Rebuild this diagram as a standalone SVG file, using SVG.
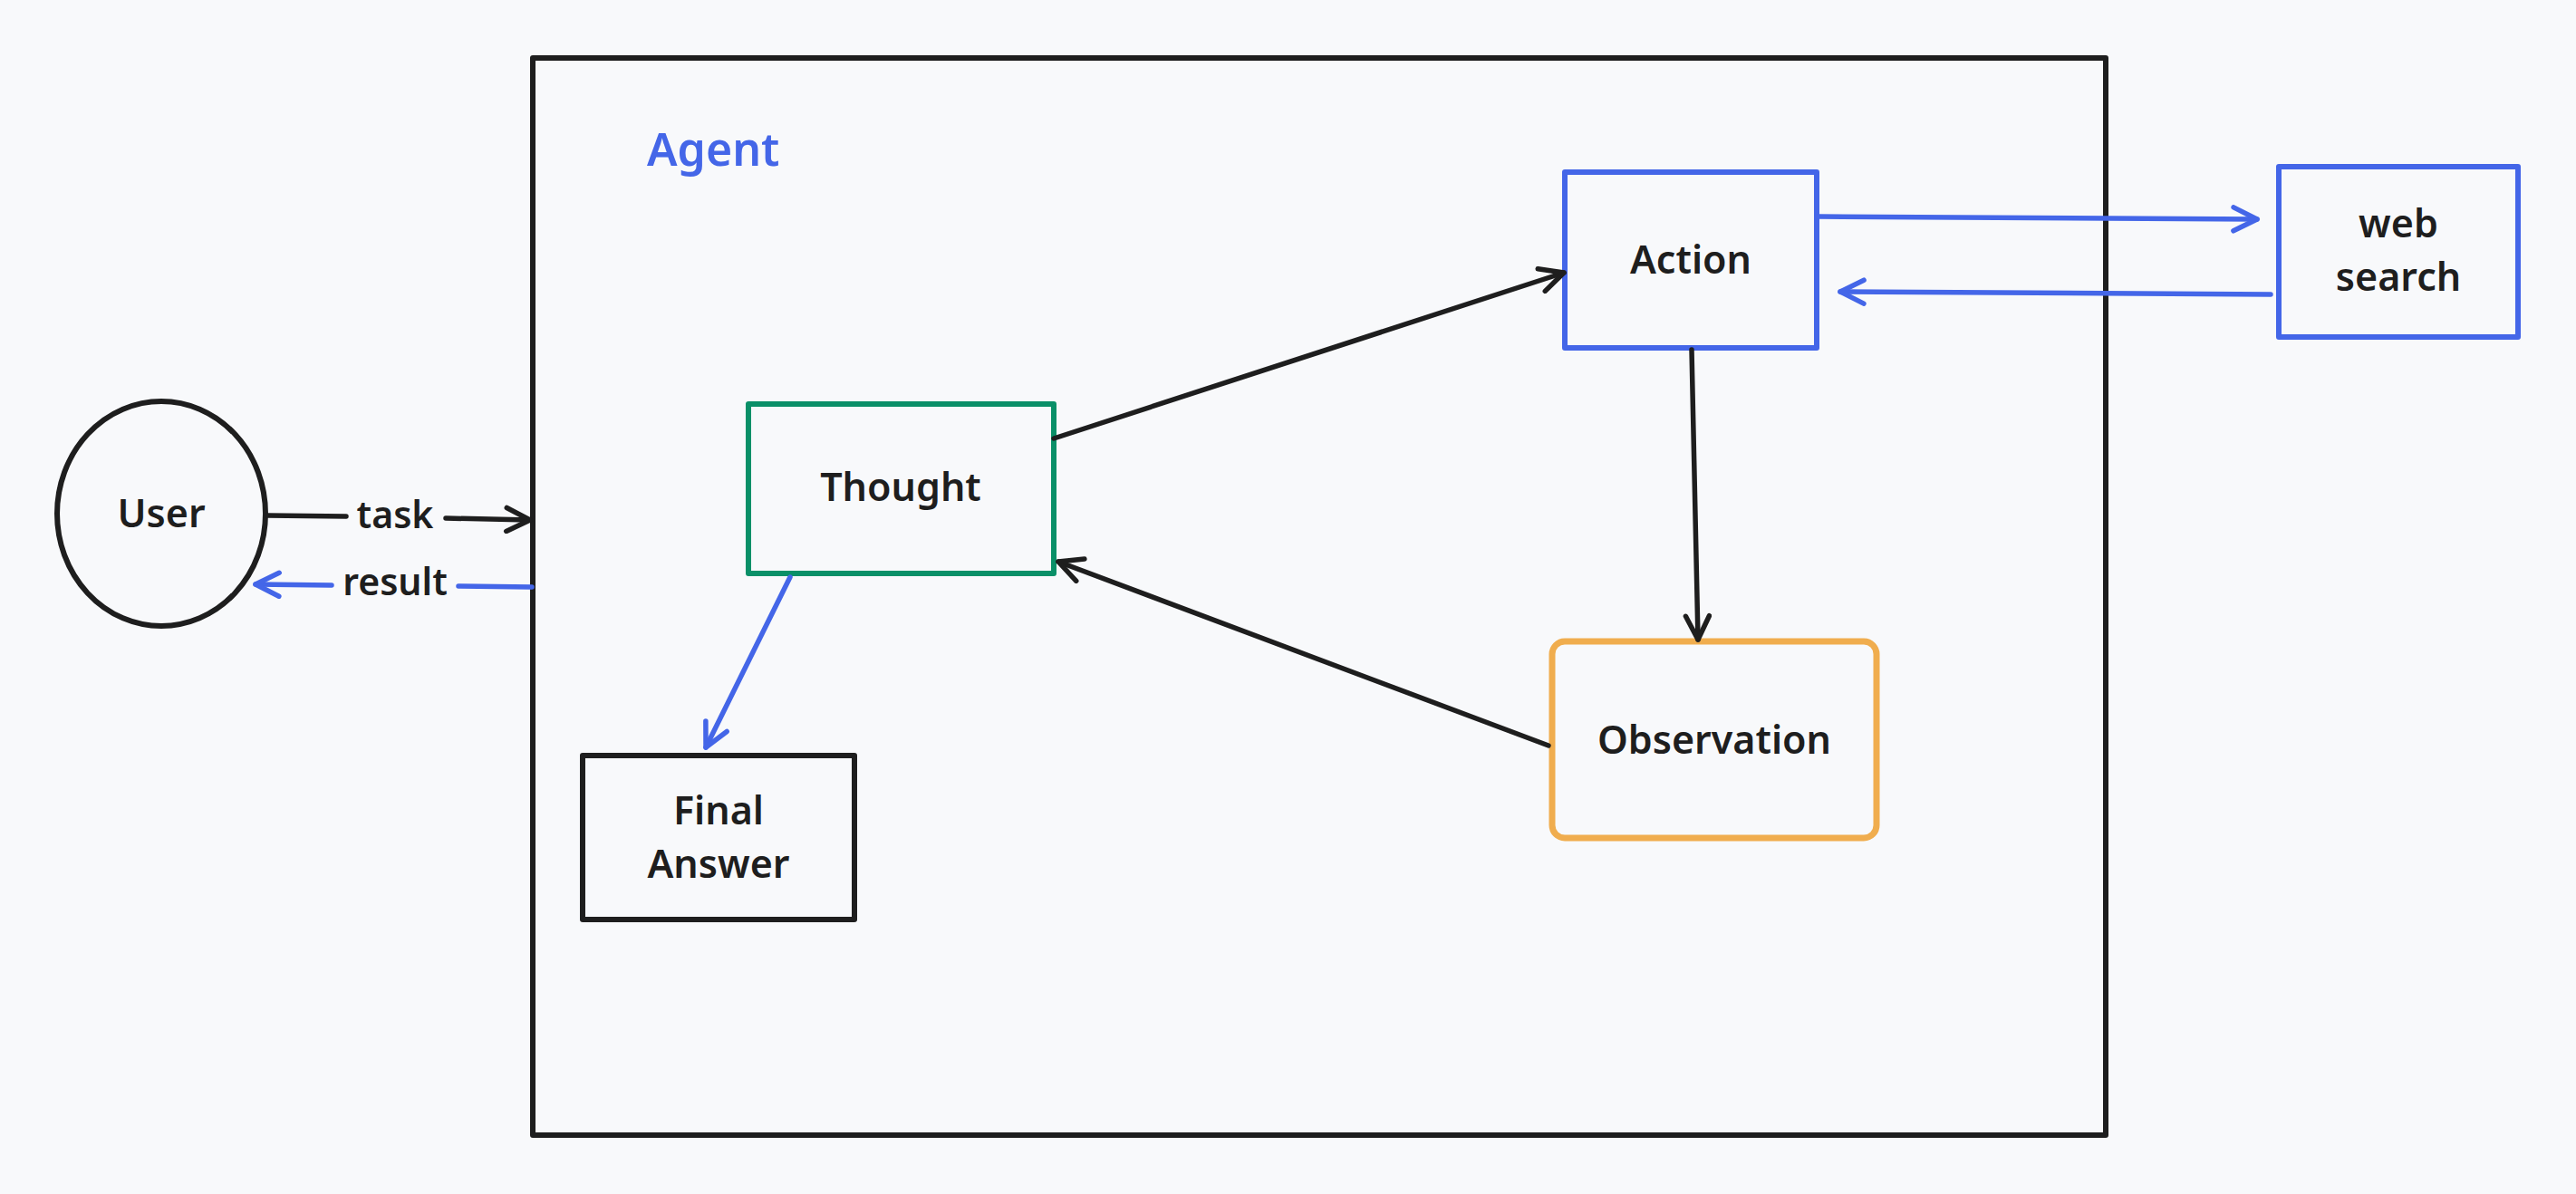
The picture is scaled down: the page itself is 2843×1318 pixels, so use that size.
<svg xmlns="http://www.w3.org/2000/svg" width="2843" height="1318" viewBox="0 0 2843 1318">
<defs>
<style>
.bg{fill:#f8f9fb}
.box{fill:#f8f9fb;stroke-width:6;stroke-linejoin:round}
.k{stroke:#1e1e1e}
.b{stroke:#4466e8}
.g{stroke:#0a9068}
.o{stroke:#f0ad4e}
.t{font-family:"Noto Sans","Liberation Sans",sans-serif;font-weight:600;font-size:43px;fill:#1e1e1e;text-anchor:middle}
.s{font-size:41px}
.lnk{fill:none;stroke-width:5.5;stroke-linecap:round}
</style>
<marker id="ak" markerUnits="userSpaceOnUse" viewBox="-30 -16 34 32" refX="0" refY="0" markerWidth="34" markerHeight="32" orient="auto">
<path d="M-26,-13 L0,0 L-26,13" fill="none" stroke="#1e1e1e" stroke-width="5.5" stroke-linecap="round" stroke-linejoin="round"/>
</marker>
<marker id="ab" markerUnits="userSpaceOnUse" viewBox="-30 -16 34 32" refX="0" refY="0" markerWidth="34" markerHeight="32" orient="auto">
<path d="M-26,-13 L0,0 L-26,13" fill="none" stroke="#4466e8" stroke-width="5.5" stroke-linecap="round" stroke-linejoin="round"/>
</marker>
</defs>
<rect class="bg" x="0" y="0" width="2843" height="1318"/>

<g id="agent">
<rect class="box k" x="588" y="64" width="1736" height="1189"/>
<text x="714" y="183" class="t" style="text-anchor:start;fill:#4466e8;font-size:50px">Agent</text>
</g>

<g id="user">
<ellipse class="box k" cx="178" cy="567" rx="115" ry="124"/>
<text x="178" y="582" class="t">User</text>
</g>

<g id="thought">
<rect class="box g" x="826" y="446" width="337" height="187"/>
<text x="994" y="553" class="t">Thought</text>
</g>

<g id="final-answer">
<rect class="box k" x="643" y="834" width="300" height="181"/>
<text x="793" y="910" class="t">Final</text>
<text x="793" y="969" class="t">Answer</text>
</g>

<g id="action">
<rect class="box b" x="1727" y="190" width="278" height="194"/>
<text x="1866" y="302" class="t">Action</text>
</g>

<g id="web-search">
<rect class="box b" x="2515" y="184" width="264" height="188"/>
<text x="2647" y="262" class="t">web</text>
<text x="2647" y="321" class="t">search</text>
</g>

<g id="observation">
<rect class="box o" x="1713" y="708" width="358" height="217" rx="14" ry="14" style="stroke-width:7"/>
<text x="1892" y="832" class="t">Observation</text>
</g>

<g id="connectors">
<path class="lnk k" d="M295,569 L382,570"/>
<path class="lnk k" d="M492,572 L585,574" marker-end="url(#ak)"/>
<text x="436" y="583" class="t s">task</text>
<path class="lnk b" d="M587,648 L506,647"/>
<path class="lnk b" d="M366,646 L282,645" marker-end="url(#ab)"/>
<text x="436" y="657" class="t s">result</text>
<path class="lnk k" d="M1163,484 L1726,301" marker-end="url(#ak)"/>
<path class="lnk k" d="M1867,386 L1874,706" marker-end="url(#ak)"/>
<path class="lnk k" d="M1709,823 L1168,620" marker-end="url(#ak)"/>
<path class="lnk b" d="M872,637 L779,825" marker-end="url(#ab)"/>
<path class="lnk b" d="M2007,239 L2491,242" marker-end="url(#ab)"/>
<path class="lnk b" d="M2506,325 L2031,322" marker-end="url(#ab)"/>
</g>
</svg>
